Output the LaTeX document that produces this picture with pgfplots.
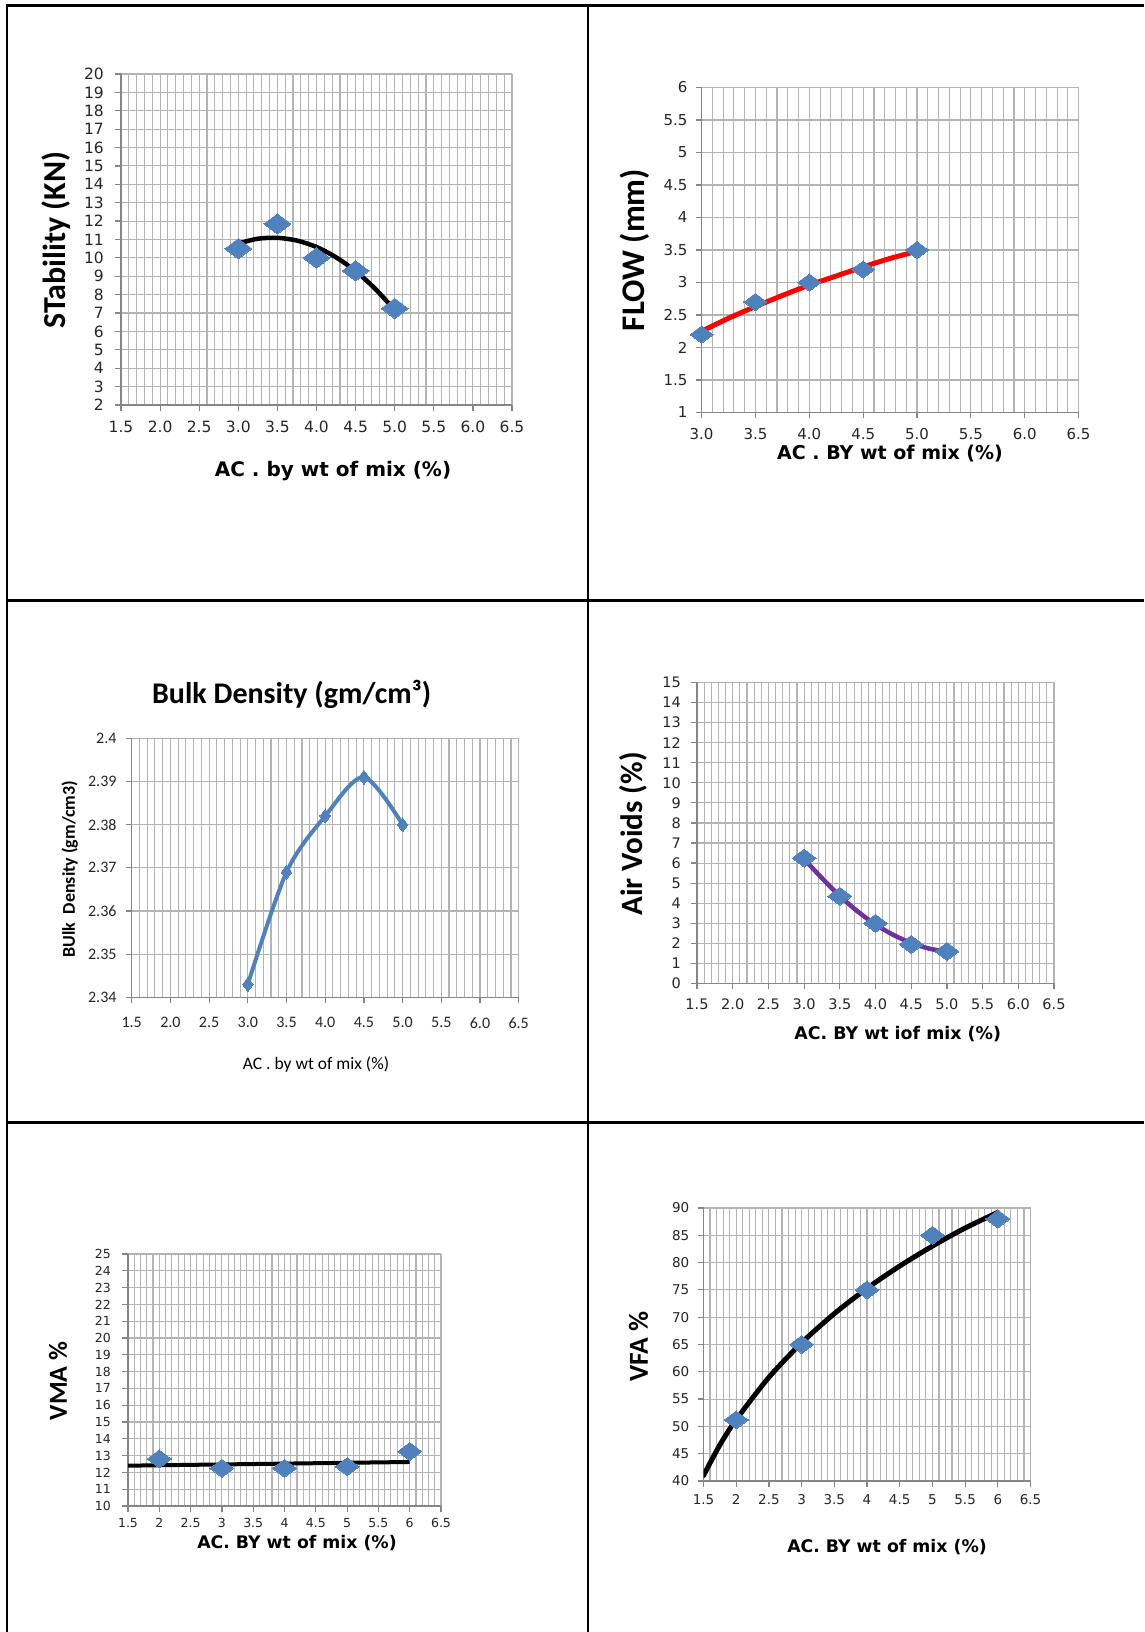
\documentclass[border=0pt]{standalone}
\usepackage{fontspec}
\setmainfont{DejaVu Sans}
\newfontfamily\dv{DejaVu Sans}
\newfontfamily\cb{Carlito}
\usepackage{pgfplots}
\pgfplotsset{compat=1.18}
\definecolor{mblue}{HTML}{4F81BD}
\definecolor{mpurple}{HTML}{7030A0}
\definecolor{gridc}{HTML}{B4B4B4}
\definecolor{axc}{HTML}{868686}
\newcommand{\fs}[1]{\fontsize{#1}{#1}\selectfont}
\pgfplotsset{
  excel/.style={
    scale only axis, anchor=south west,
    axis x line*=bottom, axis y line*=left,
    axis line style={draw=axc, line width=1.2pt},
    tick style={draw=axc, line width=1.2pt},
    major tick length=6pt, minor tick length=0pt,
    tick align=outside,
    xmajorgrids, ymajorgrids, xminorgrids,
    minor x tick num=4,
    grid style={draw=gridc, line width=1.1pt},
    minor grid style={draw=gridc, line width=1.1pt},
    tick label style={text=black!85, inner sep=0pt},
    /pgf/number format/assume math mode=true,
    xmin=1.5, xmax=6.5, xtick={1.5,2,...,6.5},
  },
  dia/.style={only marks, mark=diamond*, mark size=#1, mark options={rotate=90, fill=mblue, draw=mblue, line width=0pt}},
  onedec/.style={xticklabel style={/pgf/number format/fixed, /pgf/number format/fixed zerofill, /pgf/number format/precision=1}},
}
\begin{document}
\begin{tikzpicture}
\path[use as bounding box, fill=white] (0pt,0pt) rectangle (1144pt,1632pt);
% table lines
\draw[line width=2.5pt] (7pt,0pt) -- (7pt,1626.5pt);
\draw[line width=2.5pt] (5.75pt,1626.5pt) -- (1144pt,1626.5pt);
\draw[line width=2.5pt] (588pt,0pt) -- (588pt,1626.5pt);
\draw[line width=2.5pt] (7pt,1031.5pt) -- (1144pt,1031.5pt);
\draw[line width=2.5pt] (7pt,509.5pt) -- (1144pt,509.5pt);

% ---------- Panel 1: Stability ----------
\begin{axis}[excel, onedec, at={(121pt,1227pt)}, width=391pt, height=331pt,
  ymin=2, ymax=20, ytick={2,3,...,20},
  tick label style={font=\dv\fs{15.5}},
  yticklabel style={xshift=-11pt}, xticklabel style={yshift=-10pt}]
\addplot[dia=13.5pt] coordinates {(3.0,10.5) (3.5,11.85) (4.0,10.0) (4.5,9.3) (5.0,7.25)};
\addplot[black, line width=4.5pt, line cap=round, smooth] coordinates {(3,10.78) (3.25,11.04) (3.5,11.09) (3.75,10.94) (4,10.59) (4.25,10.03) (4.5,9.28) (4.75,8.32) (5,7.16)};
\end{axis}
\node[rotate=90, font=\cb\bfseries\fs{32}] at (56pt,1392pt) {STability (KN)};
\node[font=\dv\bfseries\fs{20}] at (333pt,1160.5pt) {AC . by wt of mix (\%)};

% ---------- Panel 2: Flow ----------
\begin{axis}[excel, onedec, at={(701.6pt,1219.5pt)}, width=377pt, height=325pt,
  xmin=3, xmax=6.5, xtick={3,3.5,...,6.5},
  ymin=1, ymax=6, ytick={1,1.5,...,6},
  tick label style={font=\dv\fs{15}},
  yticklabel style={xshift=-8pt}, xticklabel style={yshift=-10pt}]
\addplot[dia=11.5pt] coordinates {(3.0,2.2) (3.5,2.7) (4.0,3.0) (4.5,3.2) (5.0,3.5)};
\addplot[red, line width=5pt, line cap=round, smooth] coordinates {(3,2.25) (3.25,2.45) (3.5,2.63) (3.75,2.80) (4,2.96) (4.25,3.10) (4.5,3.24) (4.75,3.37) (5,3.48)};
\end{axis}
\node[rotate=90, font=\cb\bfseries\fs{33}] at (635pt,1382pt) {FLOW (mm)};
\node[font=\dv\bfseries\fs{19}] at (890pt,1178.5pt) {AC . BY wt of mix (\%)};

% ---------- Panel 3: Bulk density ----------
\begin{axis}[excel, onedec, at={(131.7pt,634.7pt)}, width=387pt, height=259pt,
  ymin=2.34, ymax=2.4, ytick={2.34,2.35,2.36,2.37,2.38,2.39,2.4},
  yticklabel style={/pgf/number format/fixed, /pgf/number format/precision=2},
  tick label style={font=\cb\fs{16}},
  yticklabel style={xshift=-9pt}, xticklabel style={yshift=-14pt}]
\addplot[color=mblue, line width=4pt, smooth, mark=diamond*, mark size=7pt, mark options={fill=mblue, draw=mblue, line width=0pt}] coordinates {(3.0,2.343) (3.5,2.369) (4.0,2.382) (4.5,2.391) (5.0,2.380)};
\end{axis}
\node[font=\cb\bfseries\fs{30}] at (291.6pt,937.3pt) {Bulk Density (gm/cm³)};
\node[rotate=90, font=\cb\bfseries\fs{18}] at (69.6pt,763pt) {BUlk\ \ Density (gm/cm3)};
\node[font=\cb\fs{17.5}] at (316pt,567pt) {AC . by wt of mix (\%)};

% ---------- Panel 4: Air voids ----------
\begin{axis}[excel, onedec, at={(697pt,648.5pt)}, width=357pt, height=301pt,
  ymin=0, ymax=15, ytick={0,1,...,15},
  tick label style={font=\dv\fs{14.5}},
  yticklabel style={xshift=-10pt}, xticklabel style={yshift=-9pt}]
\addplot[dia=12pt] coordinates {(3.0,6.25) (3.5,4.35) (4.0,3.0) (4.5,1.95) (5.0,1.6)};
\addplot[mpurple, line width=4.5pt, line cap=round, smooth] coordinates {(3,6.2) (3.25,5.25) (3.5,4.36) (3.75,3.59) (4,2.94) (4.25,2.42) (4.5,2.02) (4.75,1.74) (5,1.58)};
\end{axis}
\node[rotate=90, font=\cb\bfseries\fs{31}] at (633pt,798pt) {Air Voids (\%)};
\node[font=\dv\bfseries\fs{17.4}] at (897.7pt,597.5pt) {AC. BY wt iof mix (\%)};

% ---------- Panel 5: VMA ----------
\begin{axis}[excel, at={(128pt,126pt)}, width=313pt, height=252pt,
  ymin=10, ymax=25, ytick={10,11,...,25},
  tick label style={font=\dv\fs{12.5}},
  yticklabel style={xshift=-11pt}, xticklabel style={yshift=-6pt}]
\addplot[dia=12pt] coordinates {(2,12.8) (3,12.25) (4,12.25) (5,12.35) (6,13.25)};
\addplot[black, line width=4pt] coordinates {(1.5,12.4) (6,12.62)};
\end{axis}
\node[rotate=90, font=\cb\bfseries\fs{26}] at (58pt,251pt) {VMA \%};
\node[font=\dv\bfseries\fs{17.3}] at (297pt,88.7pt) {AC. BY wt of mix (\%)};

% ---------- Panel 6: VFA ----------
\begin{axis}[excel, at={(703.5pt,151pt)}, width=327pt, height=273pt,
  ymin=40, ymax=90, ytick={40,45,...,90},
  tick label style={font=\dv\fs{13.5}},
  yticklabel style={xshift=-8pt}, xticklabel style={yshift=-7pt}]
\addplot[dia=12pt] coordinates {(2,51.2) (3,65.0) (4,75.0) (5,85.0) (6,88.0)};
\addplot[black, line width=5pt, line cap=round, smooth] coordinates {(1.5,41.0) (1.75,46.6) (2,51.24) (2.5,58.98) (3,65.3) (3.5,70.65) (4,75.28) (4.5,79.37) (5,83.02) (5.5,86.33) (6,89.2)};
\end{axis}
\node[rotate=90, font=\cb\bfseries\fs{27.5}] at (638.5pt,285.3pt) {VFA \%};
\node[font=\dv\bfseries\fs{17.3}] at (887pt,85.3pt) {AC. BY wt of mix (\%)};
\end{tikzpicture}
\end{document}
